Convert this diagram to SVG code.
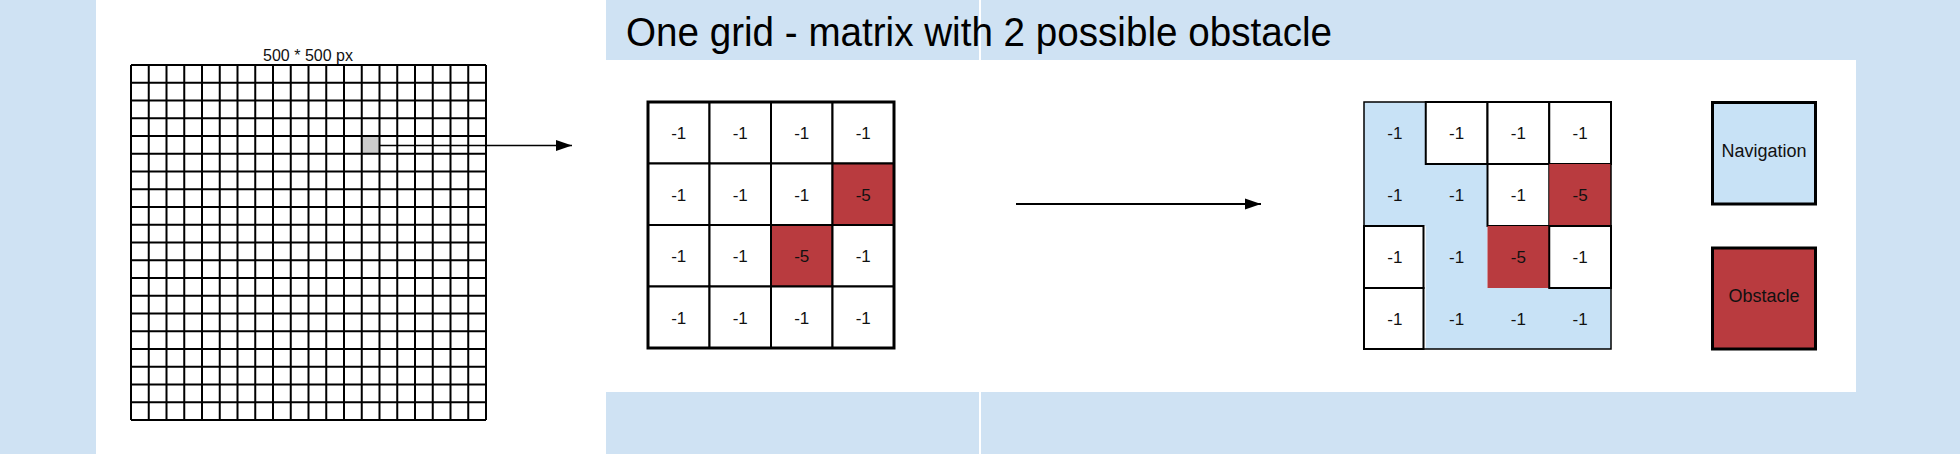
<svg xmlns="http://www.w3.org/2000/svg" width="1960" height="454" viewBox="0 0 1960 454">
  <style>
    .band { fill: #cfe2f3; }
    .cell { stroke: #000; stroke-width: 2; }
    .white { fill: #ffffff; }
    .red { fill: #b93b3f; }
    .nav { fill: #c8e2f6; }
    .num { font-family: "Liberation Sans", Arial, sans-serif; font-size: 17px; fill: #111; text-anchor: middle; }
    .lbl { font-family: "Liberation Sans", Arial, sans-serif; font-size: 18px; fill: #111; text-anchor: middle; }
    .conn { stroke: #000; fill: none; }
  </style>
  <defs>
    <marker id="arrow" markerUnits="userSpaceOnUse" markerWidth="17" markerHeight="12" refX="16" refY="6" orient="auto">
      <path d="M0,0.5 L16,6 L0,11.5 Z" fill="#000"/>
    </marker>
  </defs>

  <rect x="0" y="0" width="1960" height="454" fill="#ffffff"/>
  <!-- background bands -->
  <g id="background">
    <rect class="band" x="0" y="0" width="96" height="454"/>
    <rect class="band" x="606" y="0" width="1354" height="60"/>
    <rect class="band" x="606" y="392" width="1354" height="62"/>
    <rect class="band" x="1856" y="0" width="104" height="454"/>
    <rect x="979" y="0" width="2" height="60" fill="#ffffff"/>
    <rect x="979" y="392" width="2" height="62" fill="#ffffff"/>
  </g>

  <g id="title">
    <text x="626" y="46" font-family="'Liberation Sans Narrow', 'Liberation Sans', Arial, sans-serif" font-size="40" fill="#000" textLength="706" lengthAdjust="spacingAndGlyphs">One grid - matrix with 2 possible obstacle</text>
  </g>

  <g id="big-grid">
    <text x="308" y="61" font-family="'Liberation Sans', Arial, sans-serif" font-size="16" fill="#111" text-anchor="middle">500 * 500 px</text>
    <rect x="361.75" y="136" width="17.75" height="17.75" fill="#cccccc"/>
    <path stroke="#000" stroke-width="2" fill="none" d="
      M131,65 V420 M148.75,65 V420 M166.5,65 V420 M184.25,65 V420 M202,65 V420
      M219.75,65 V420 M237.5,65 V420 M255.25,65 V420 M273,65 V420 M290.75,65 V420
      M308.5,65 V420 M326.25,65 V420 M344,65 V420 M361.75,65 V420 M379.5,65 V420
      M397.25,65 V420 M415,65 V420 M432.75,65 V420 M450.5,65 V420 M468.25,65 V420 M486,65 V420
      M131,65 H486 M131,82.75 H486 M131,100.5 H486 M131,118.25 H487 M131,136 H487
      M131,153.75 H487 M131,171.5 H486 M131,189.25 H486 M131,207 H487 M131,224.75 H486
      M131,242.5 H486 M131,260.25 H486 M131,278 H486 M131,295.75 H486 M131,313.5 H486
      M131,331.25 H486 M131,349 H486 M131,366.75 H487 M131,384.5 H487 M131,402.25 H486 M131,420 H486"/>
  </g>

  <g id="matrix-input">
    <rect class="cell white" x="648" y="102" width="61.5" height="61.5"/>
    <rect class="cell white" x="709.5" y="102" width="61.5" height="61.5"/>
    <rect class="cell white" x="771" y="102" width="61.5" height="61.5"/>
    <rect class="cell white" x="832.5" y="102" width="61.5" height="61.5"/>
    <rect class="cell white" x="648" y="163.5" width="61.5" height="61.5"/>
    <rect class="cell white" x="709.5" y="163.5" width="61.5" height="61.5"/>
    <rect class="cell white" x="771" y="163.5" width="61.5" height="61.5"/>
    <rect class="cell red" x="832.5" y="163.5" width="61.5" height="61.5"/>
    <rect class="cell white" x="648" y="225" width="61.5" height="61.5"/>
    <rect class="cell white" x="709.5" y="225" width="61.5" height="61.5"/>
    <rect class="cell red" x="771" y="225" width="61.5" height="61.5"/>
    <rect class="cell white" x="832.5" y="225" width="61.5" height="61.5"/>
    <rect class="cell white" x="648" y="286.5" width="61.5" height="61.5"/>
    <rect class="cell white" x="709.5" y="286.5" width="61.5" height="61.5"/>
    <rect class="cell white" x="771" y="286.5" width="61.5" height="61.5"/>
    <rect class="cell white" x="832.5" y="286.5" width="61.5" height="61.5"/>
    <rect x="648" y="102" width="246" height="246" fill="none" stroke="#000" stroke-width="3"/>
    <text class="num" x="678.75" y="139">-1</text>
    <text class="num" x="740.25" y="139">-1</text>
    <text class="num" x="801.75" y="139">-1</text>
    <text class="num" x="863.25" y="139">-1</text>
    <text class="num" x="678.75" y="200.5">-1</text>
    <text class="num" x="740.25" y="200.5">-1</text>
    <text class="num" x="801.75" y="200.5">-1</text>
    <text class="num" x="863.25" y="200.5">-5</text>
    <text class="num" x="678.75" y="262">-1</text>
    <text class="num" x="740.25" y="262">-1</text>
    <text class="num" x="801.75" y="262">-5</text>
    <text class="num" x="863.25" y="262">-1</text>
    <text class="num" x="678.75" y="323.5">-1</text>
    <text class="num" x="740.25" y="323.5">-1</text>
    <text class="num" x="801.75" y="323.5">-1</text>
    <text class="num" x="863.25" y="323.5">-1</text>
  </g>

  <g id="matrix-path">
    <path class="nav" d="M1364,102 H1425.75 V164 H1487.5 V288 H1611 V349 H1425.75 V226 H1364 Z"/>
    <rect class="cell white" x="1425.75" y="102" width="61.75" height="62"/>
    <rect class="cell white" x="1487.5" y="102" width="61.75" height="62"/>
    <rect class="cell white" x="1549.25" y="102" width="61.75" height="62"/>
    <rect class="cell white" x="1487.5" y="164" width="61.75" height="62"/>
    <rect class="red" x="1549.25" y="164" width="61.75" height="62"/>
    <rect class="red" x="1487.5" y="226" width="61.75" height="62"/>
    <rect class="cell white" x="1364" y="226" width="59.5" height="62"/>
    <rect class="cell white" x="1549.25" y="226" width="61.75" height="62"/>
    <rect class="cell white" x="1364" y="288" width="59.5" height="61"/>
    <rect x="1364" y="102" width="247" height="247" fill="none" stroke="#000" stroke-width="1.5"/>
    <text class="num" x="1394.9" y="139">-1</text>
    <text class="num" x="1456.6" y="139">-1</text>
    <text class="num" x="1518.4" y="139">-1</text>
    <text class="num" x="1580.1" y="139">-1</text>
    <text class="num" x="1394.9" y="201">-1</text>
    <text class="num" x="1456.6" y="201">-1</text>
    <text class="num" x="1518.4" y="201">-1</text>
    <text class="num" x="1580.1" y="201">-5</text>
    <text class="num" x="1394.9" y="263">-1</text>
    <text class="num" x="1456.6" y="263">-1</text>
    <text class="num" x="1518.4" y="263">-5</text>
    <text class="num" x="1580.1" y="263">-1</text>
    <text class="num" x="1394.9" y="324.5">-1</text>
    <text class="num" x="1456.6" y="324.5">-1</text>
    <text class="num" x="1518.4" y="324.5">-1</text>
    <text class="num" x="1580.1" y="324.5">-1</text>
  </g>

  <g id="legend-navigation">
    <rect class="nav" x="1712.5" y="102.5" width="103" height="101.5" stroke="#000" stroke-width="3"/>
    <text class="lbl" x="1764" y="157">Navigation</text>
  </g>

  <g id="legend-obstacle">
    <rect class="red" x="1712.5" y="248" width="103" height="101" stroke="#000" stroke-width="3"/>
    <text class="lbl" x="1764" y="302">Obstacle</text>
  </g>

  <g id="connectors">
    <line class="conn" stroke-width="1.6" x1="379.5" y1="145.5" x2="572" y2="145.5" marker-end="url(#arrow)"/>
    <line class="conn" stroke-width="2" x1="1016" y1="204" x2="1261" y2="204" marker-end="url(#arrow)"/>
  </g>
</svg>
